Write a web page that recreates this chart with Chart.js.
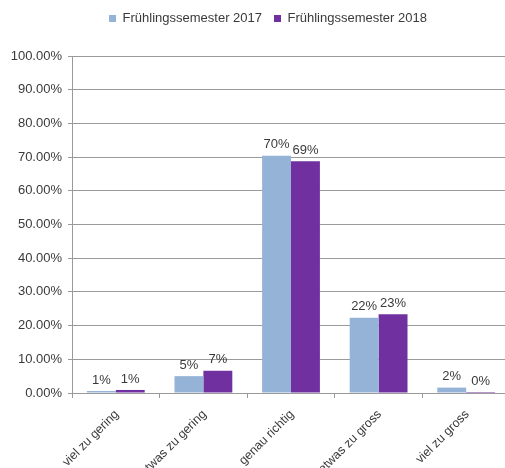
<!DOCTYPE html>
<html><head><meta charset="utf-8">
<script src="https://cdn.jsdelivr.net/npm/chart.js@4/dist/chart.umd.min.js"></script>
<style>html,body{margin:0;padding:0;overflow:hidden;background:#fff}#wrap{width:512px;height:468px}</style>
</head><body><div id="wrap"><canvas id="c" width="512" height="468"></canvas></div>
<script>
const categories = ['viel zu gering', 'etwas zu gering', 'genau richtig', 'etwas zu gross', 'viel zu gross'];
const seriesNames = ['Frühlingssemester 2017', 'Frühlingssemester 2018'];
const values2017 = [0.6, 5.0, 70.4, 22.3, 1.6];
const values2018 = [0.9, 6.6, 68.8, 23.4, 0.3];
const yTicks = [0, 10, 20, 30, 40, 50, 60, 70, 80, 90, 100];

const FONT = 'Liberation Sans, Arial, sans-serif';
const TXT = '#3a3a3a';
const GRID = '#9a9a9a';

const valueLabels = {
  id: 'valueLabels',
  afterDatasetsDraw(chart) {
    const ctx = chart.ctx;
    ctx.save();
    ctx.font = '13px ' + FONT;
    ctx.fillStyle = TXT;
    ctx.textAlign = 'center';
    ctx.textBaseline = 'middle';
    chart.data.datasets.forEach((ds, i) => {
      const meta = chart.getDatasetMeta(i);
      meta.data.forEach((bar, j) => {
        ctx.fillText(Math.round(ds.data[j]) + '%', bar.x, bar.y - 11);
      });
    });
    ctx.restore();
  }
};
const legendMargin = {
  id: 'legendMargin',
  beforeInit(chart) {
    const orig = chart.legend.fit;
    chart.legend.fit = function () { orig.bind(chart.legend)(); this.height += 21; };
  },
  afterLayout(chart) {
    chart.legend.left += 26;
  }
};

new Chart(document.getElementById('c'), {
  type: 'bar',
  data: {
    labels: categories,
    datasets: [
      { label: seriesNames[0], data: values2017, backgroundColor: '#95B3D7', categoryPercentage: 0.66, barPercentage: 1 },
      { label: seriesNames[1], data: values2018, backgroundColor: '#7030A0', categoryPercentage: 0.66, barPercentage: 1 }
    ]
  },
  options: {
    responsive: false,
    animation: false,
    layout: { padding: { left: 0, right: 2, top: 0, bottom: 0 } },
    plugins: {
      legend: {
        position: 'top',
        labels: { boxWidth: 7, boxHeight: 7, padding: 12, color: TXT, font: { family: FONT, size: 13 } }
      },
      tooltip: { enabled: false }
    },
    scales: {
      x: {
        grid: { drawOnChartArea: false, drawTicks: true, tickLength: 5, color: GRID },
        border: { color: GRID },
        ticks: { maxRotation: 45, minRotation: 45, color: TXT, font: { family: FONT, size: 12.5 }, labelOffset: 1, padding: 9 },
        afterFit(s) { s.height = 75; }
      },
      y: {
        min: 0, max: 100,
        afterBuildTicks(s) { s.ticks = yTicks.map(v => ({ value: v })); },
        grid: { color: GRID, tickLength: 4 },
        border: { color: GRID },
        ticks: { color: TXT, padding: 6, font: { family: FONT, size: 13 }, callback: v => v.toFixed(2) + '%' },
        afterFit(s) { s.width = 72; }
      }
    }
  },
  plugins: [valueLabels, legendMargin]
});
</script></body></html>
